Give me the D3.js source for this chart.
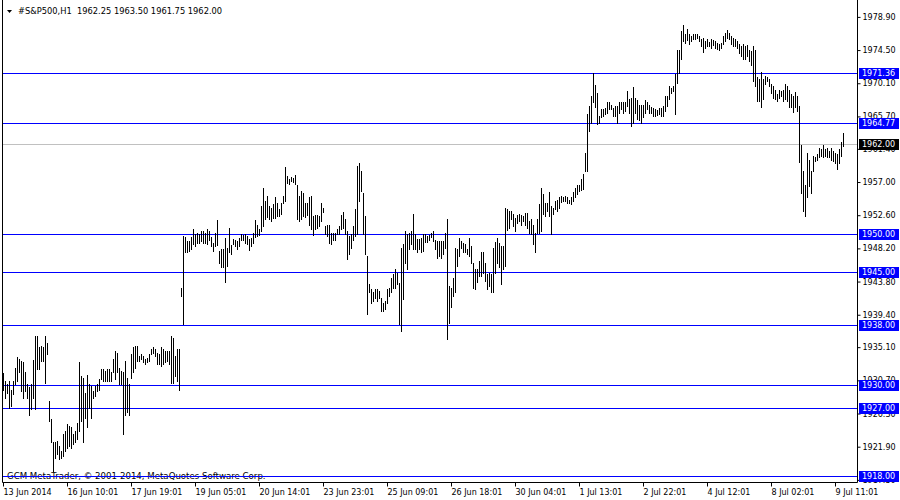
<!DOCTYPE html>
<html><head><meta charset="utf-8">
<script src="https://cdn.jsdelivr.net/npm/d3@7"></script>
<style>
body{margin:0;background:#fff}
svg{display:block}
text{font-family:"DejaVu Sans",sans-serif;font-size:8px;fill:#000}
</style>
</head><body><svg id="c" width="900" height="500"></svg>
<script>
const symbol = "#S&P500,H1";
const lastOHLC = [1962.25, 1963.50, 1961.75, 1962.00];
const copyright = "GCM MetaTrader, © 2001-2014, MetaQuotes Software Corp.";

const highs = [
1931.6,1930.55,1930.2,1930.6,1929.4,1930.6,1932.3,1933.7,1933.4,1933.2,
1933.0,1931.7,1930.1,1929.7,1930.1,1933.3,1936.5,1936.5,1935.0,1935.2,
1935.0,1936.5,1935.6,1927.9,1925.5,1922.4,1922.4,1922.6,1921.9,1921.3,
1923.5,1923.9,1924.8,1924.6,1924.4,1923.5,1923.9,1925.0,1933.0,1931.2,
1931.0,1929.0,1931.4,1930.1,1929.9,1929.2,1929.9,1930.1,1930.8,1932.1,
1932.1,1931.9,1932.1,1932.1,1931.7,1933.4,1934.5,1934.3,1932.3,1931.9,
1931.7,1933.2,1931.0,1930.1,1934.1,1935.0,1935.2,1935.2,1933.9,1934.1,
1933.9,1933.4,1933.6,1934.1,1934.8,1935.0,1934.8,1934.3,1934.1,1935.0,
1934.8,1934.5,1934.5,1934.5,1936.5,1936.3,1933.9,1934.8,1934.8,1942.9,
1949.8,1949.6,1949.1,1949.1,1949.6,1950.7,1950.0,1950.2,1950.0,1950.4,
1950.4,1950.2,1950.7,1950.5,1949.6,1948.9,1950.2,1951.85,1947.8,1948.0,
1948.0,1949.55,1948.2,1950.8,1948.6,1949.35,1949.2,1949.1,1949.55,1950.0,
1949.9,1950.0,1949.8,1949.35,1949.55,1950.2,1951.85,1951.3,1950.65,1953.75,
1956.2,1954.4,1955.1,1953.75,1953.5,1954.0,1954.9,1954.2,1953.3,1954.1,
1955.1,1958.9,1957.7,1957.3,1957.6,1957.5,1957.9,1956.6,1955.1,1955.75,
1955.5,1954.2,1954.2,1954.9,1955.1,1952.4,1952.6,1952.6,1952.4,1954.2,
1953.5,1951.1,1951.3,1951.3,1950.2,1950.2,1950.2,1950.65,1951.1,1952.6,
1952.9,1952.0,1950.4,1949.8,1950.0,1951.1,1953.3,1959.1,1959.5,1958.4,
1955.5,1952.4,1947.1,1943.4,1942.7,1942.3,1942.7,1942.7,1942.5,1941.6,
1940.9,1941.1,1942.7,1942.9,1944.25,1944.7,1945.35,1944.9,1943.6,1948.2,
1948.7,1950.4,1950.0,1950.2,1950.4,1952.65,1950.0,1949.35,1949.35,1949.55,
1950.0,1950.0,1949.8,1949.9,1950.2,1950.4,1949.3,1949.1,1949.1,1949.1,
1949.1,1950.2,1952.0,1943.15,1942.9,1944.25,1948.2,1948.0,1949.55,1949.1,
1948.9,1948.7,1948.0,1949.55,1948.45,1946.2,1945.35,1945.35,1946.5,1947.6,
1947.6,1946.2,1944.7,1944.9,1944.7,1948.2,1949.0,1949.55,1948.9,1948.45,
1948.5,1953.5,1953.3,1953.1,1953.1,1952.65,1952.2,1952.5,1952.65,1952.5,
1952.4,1952.8,1952.8,1951.8,1952.0,1951.3,1950.2,1952.0,1954.0,1956.2,
1955.3,1954.2,1954.2,1955.6,1953.8,1953.5,1954.4,1954.6,1955.0,1955.1,
1954.9,1955.1,1954.9,1954.6,1955.0,1955.6,1956.2,1956.5,1956.6,1957.3,
1957.95,1960.75,1966.0,1967.0,1968.3,1971.4,1969.8,1968.8,1965.7,1966.6,
1966.6,1966.8,1967.5,1967.5,1967.2,1966.8,1967.0,1967.0,1967.5,1967.5,
1967.5,1967.5,1969.0,1968.0,1968.1,1969.5,1968.1,1967.8,1967.2,1967.2,
1967.2,1967.8,1967.5,1967.2,1966.9,1966.8,1966.6,1966.5,1966.8,1966.8,
1967.0,1968.3,1968.3,1969.7,1969.45,1969.7,1971.2,1974.5,1974.5,1977.0,
1977.7,1976.5,1977.2,1976.5,1976.3,1976.5,1976.5,1976.5,1976.3,1975.9,
1976.1,1975.6,1975.9,1975.5,1975.9,1975.8,1975.6,1975.4,1975.2,1975.4,
1976.3,1976.7,1977.1,1976.7,1976.3,1976.1,1975.9,1975.6,1975.3,1975.0,
1975.2,1975.0,1975.1,1974.5,1974.3,1975.0,1974.5,1970.8,1970.55,1971.5,
1970.6,1971.0,1970.9,1970.55,1969.9,1969.7,1969.2,1968.6,1969.2,1969.0,
1969.2,1970.0,1969.7,1969.2,1968.6,1968.3,1968.9,1968.3,1967.0,1961.9,
1958.4,1956.6,1960.8,1959.9,1958.4,1960.4,1960.2,1960.6,1961.5,1961.3,
1961.8,1961.3,1961.5,1961.05,1961.5,1961.05,1960.8,1960.6,1961.3,1962.2,1963.5
];
const lows = [
1929.4,1928.3,1929.0,1927.0,1927.2,1928.8,1930.1,1930.6,1931.7,1929.2,
1928.3,1929.2,1928.3,1926.1,1926.8,1928.3,1926.8,1932.1,1932.1,1933.2,
1933.2,1930.3,1934.1,1925.2,1922.4,1918.6,1920.4,1920.8,1920.2,1920.4,
1920.6,1921.3,1921.7,1921.9,1921.7,1922.2,1922.4,1922.8,1923.9,1925.2,
1922.4,1925.7,1924.4,1927.0,1925.7,1928.3,1928.6,1929.2,1929.4,1930.8,
1930.6,1930.6,1930.6,1930.6,1930.6,1931.7,1930.8,1931.7,1930.1,1930.1,
1923.5,1926.1,1926.4,1926.1,1931.0,1931.7,1932.3,1933.2,1933.2,1933.4,
1933.0,1932.8,1933.0,1933.2,1934.1,1934.3,1933.9,1932.8,1932.8,1932.5,
1932.8,1933.0,1933.2,1932.8,1930.3,1930.3,1931.2,1930.6,1929.4,1941.8,
1938.1,1947.6,1947.6,1947.8,1948.0,1948.7,1948.5,1948.9,1948.9,1949.1,
1948.9,1948.9,1948.7,1949.3,1948.5,1947.8,1948.45,1948.6,1946.2,1945.6,
1945.6,1943.7,1945.8,1947.6,1947.4,1948.7,1948.45,1948.1,1948.45,1949.2,
1949.3,1948.8,1948.7,1947.9,1948.45,1948.8,1949.65,1949.8,1949.9,1950.4,
1951.1,1952.0,1952.3,1952.0,1951.8,1952.1,1952.2,1952.4,1952.4,1952.7,
1954.2,1954.4,1956.85,1956.7,1957.1,1957.0,1956.7,1952.0,1951.8,1952.0,
1952.4,1952.3,1952.6,1951.3,1950.7,1949.9,1950.7,1950.9,1951.1,1951.8,
1952.9,1950.0,1949.8,1948.9,1948.7,1949.3,1949.3,1950.0,1950.0,1950.65,
1950.9,1950.0,1946.7,1947.35,1948.2,1949.3,1949.8,1950.0,1954.4,1955.75,
1950.0,1947.35,1939.4,1942.3,1940.9,1941.1,1941.6,1941.1,1941.6,1939.8,
1939.8,1940.05,1940.9,1941.8,1942.3,1942.9,1942.9,1943.4,1938.1,1937.2,
1941.4,1946.2,1945.35,1948.0,1948.7,1948.0,1948.0,1947.6,1948.0,1947.6,
1947.8,1949.0,1949.0,1949.3,1949.6,1949.1,1948.0,1946.8,1947.1,1946.8,
1947.35,1948.2,1936.1,1938.3,1940.3,1941.8,1942.3,1945.8,1947.1,1948.2,
1947.65,1947.6,1947.35,1947.1,1946.2,1942.9,1942.7,1943.7,1944.5,1944.5,
1944.9,1943.8,1942.7,1943.15,1942.3,1942.3,1944.9,1946.2,1945.6,1943.4,
1945.35,1945.8,1950.6,1950.9,1952.0,1951.1,1950.4,1951.55,1951.8,1951.3,
1951.8,1951.3,1950.9,1950.2,1950.1,1948.7,1947.65,1950.2,1950.2,1950.4,
1952.65,1952.4,1953.1,1952.4,1950.0,1952.65,1953.3,1953.1,1953.5,1954.3,
1954.4,1954.4,1954.2,1954.2,1954.0,1954.4,1954.9,1955.4,1955.75,1955.9,
1955.97,1958.4,1958.4,1963.7,1964.8,1967.5,1966.9,1964.6,1964.8,1965.5,
1965.7,1965.9,1966.1,1966.6,1966.6,1965.7,1965.7,1964.8,1966.1,1966.6,
1966.1,1966.4,1967.0,1966.1,1964.4,1964.8,1966.1,1965.3,1965.2,1964.8,
1965.5,1966.1,1966.6,1966.1,1966.1,1965.7,1965.7,1965.8,1965.9,1965.7,
1965.7,1966.35,1967.0,1967.9,1968.8,1969.0,1965.9,1970.1,1971.4,1973.2,
1975.6,1975.4,1975.8,1975.2,1975.6,1975.9,1975.9,1976.0,1975.6,1975.0,
1974.2,1974.7,1975.0,1975.0,1974.7,1975.1,1974.7,1974.6,1974.5,1974.7,
1975.3,1975.6,1976.1,1975.9,1975.3,1975.0,1975.0,1974.7,1974.1,1973.6,
1973.2,1973.3,1973.6,1973.0,1972.5,1970.3,1969.7,1967.7,1967.7,1966.9,
1967.9,1969.9,1970.3,1969.7,1968.8,1968.1,1967.9,1967.7,1968.1,1968.3,
1967.7,1967.9,1967.7,1966.9,1966.9,1966.2,1966.9,1966.35,1959.6,1955.5,
1953.1,1952.4,1954.9,1956.4,1955.5,1958.4,1959.7,1959.9,1960.2,1960.4,
1960.3,1960.4,1960.2,1960.3,1959.9,1959.7,1959.4,1958.6,1959.5,1960.4,1961.7
];

const timeLabels = ["13 Jun 2014","16 Jun 10:01","17 Jun 19:01","19 Jun 05:01","20 Jun 14:01",
  "23 Jun 23:01","25 Jun 09:01","26 Jun 18:01","30 Jun 04:01","1 Jul 13:01","2 Jul 22:01",
  "4 Jul 12:01","8 Jul 02:01","9 Jul 11:01"];
const timeLabelBars = [0,32,64,96,128,160,192,224,256,288,320,352,384,416];
const priceTicks = [1978.90,1974.50,1970.10,1965.70,1961.40,1957.00,1952.60,1948.20,
  1943.80,1939.40,1935.10,1930.70,1926.30,1921.90,1917.50];
const levels = [1971.36,1964.77,1950.00,1945.00,1938.00,1930.00,1927.00,1918.00];
const lastPrice = 1962.00;

const svg = d3.select("#c");
const L = 2.5, R = 857.5, B = 482.5;
const x = d3.scaleLinear().domain([0, highs.length - 1]).range([3, 843]);
const y = d3.scaleLinear().domain([1918, 1978.9]).range([475.6, 16.4]);
const fmt = d3.format(".2f");

// watermark (under lines)
svg.append("text").attr("x", 7).attr("y", 479).style("font-size", "8.6px").text(copyright);

// level lines
const py = v => Math.round(y(v)) + 0.5;
svg.append("line").attr("x1", L).attr("x2", R).attr("y1", py(lastPrice)).attr("y2", py(lastPrice))
  .attr("stroke", "#c0c0c0").attr("stroke-width", 1);
svg.selectAll("line.lvl").data(levels).join("line").attr("class", "lvl")
  .attr("x1", L).attr("x2", R).attr("y1", py).attr("y2", py)
  .attr("stroke", "#0000ff").attr("stroke-width", 1);

// bars (high-low)
const bars = highs.map((h, i) => ({i, h, l: lows[i]}));
svg.append("g").selectAll("rect").data(bars).join("rect")
  .attr("x", d => Math.round(x(d.i)))
  .attr("y", d => Math.round(y(d.h)))
  .attr("width", 1)
  .attr("height", d => Math.max(1, Math.round(y(d.l)) - Math.round(y(d.h)) + 1))
  .attr("fill", "#000");

// frame
svg.append("path").attr("d", `M${L},0V${B}H${R}V0`).attr("fill", "none")
  .attr("stroke", "#000").attr("stroke-width", 1);

// right price axis
const ya = svg.append("g").attr("transform", `translate(${R},0.5)`)
  .call(d3.axisRight(y).tickValues(priceTicks).tickFormat(fmt).tickSize(3).tickPadding(2));
ya.select(".domain").remove();
ya.selectAll("text").attr("font-family", null).attr("font-size", null);

// bottom time axis
const xa = svg.append("g").attr("transform", `translate(0.5,${B})`)
  .call(d3.axisBottom(x).tickValues(timeLabelBars).tickFormat((d, k) => timeLabels[k]).tickSize(4).tickPadding(3));
xa.select(".domain").remove();
xa.selectAll("text").attr("text-anchor", "start").attr("dx", 0)
  .attr("font-family", null).attr("font-size", null);
xa.selectAll(".tick").attr("transform", d => `translate(${Math.round(x(d))},0)`);

// level labels (drawn over the axis labels, as in the terminal)
const lab = svg.append("g");
const boxes = levels.map(v => ({v, bg: "#0000ff"})).concat([{v: lastPrice, bg: "#000"}]);
lab.selectAll("rect").data(boxes).join("rect")
  .attr("x", 859).attr("y", d => Math.round(y(d.v)) - 5).attr("width", 40).attr("height", 11)
  .attr("fill", d => d.bg);
lab.selectAll("text").data(boxes).join("text")
  .attr("x", 862).attr("y", d => Math.round(y(d.v)) + 0.5).attr("dy", "0.32em")
  .style("fill", "#fff").text(d => fmt(d.v));

// title
svg.append("path").attr("d", "M7,10H12L9.5,13Z").attr("fill", "#000");
svg.append("text").attr("x", 18).attr("y", 14).style("white-space", "pre").style("font-size", "8.3px")
  .text(`${symbol}  ${lastOHLC.map(fmt).join(" ")}`);
</script>
</body></html>
